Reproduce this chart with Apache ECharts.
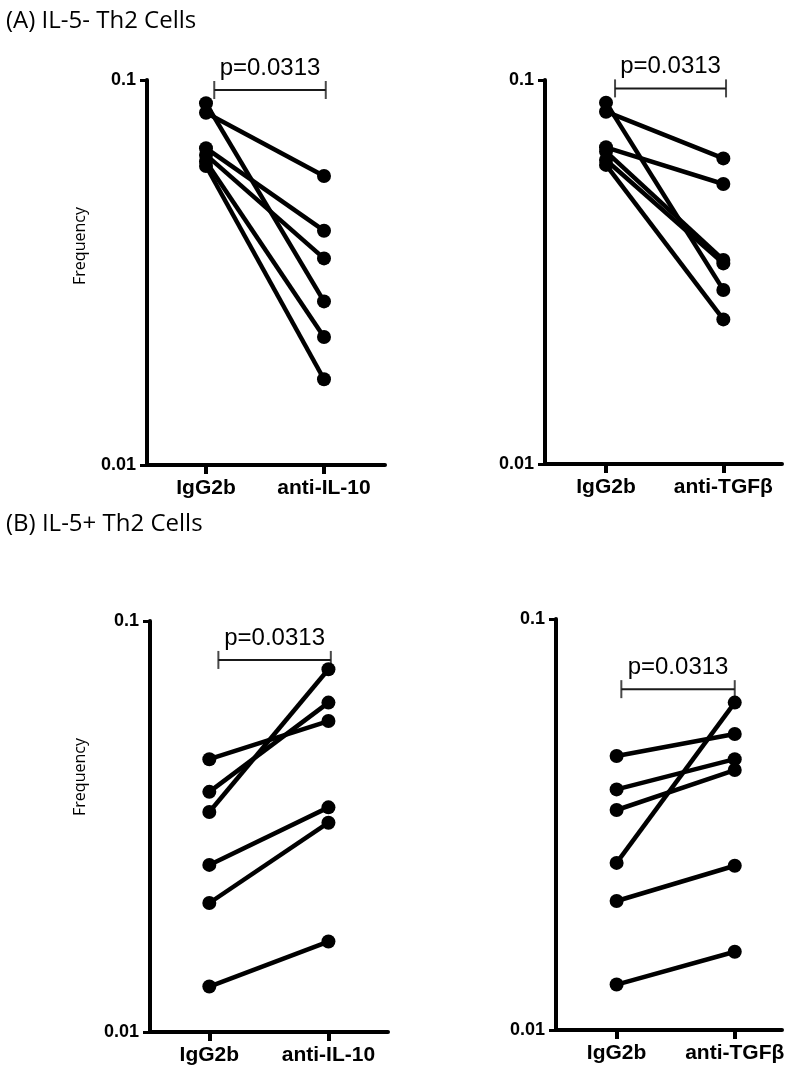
<!DOCTYPE html>
<html>
<head>
<meta charset="utf-8">
<style>
  html, body { margin: 0; padding: 0; background: #fff; }
  #chart { width: 800px; height: 1077px; }
</style>
<script src="https://cdn.jsdelivr.net/npm/echarts@6/dist/echarts.min.js"></script>
</head>
<body>
<div id="chart"></div>
<script>
// ---------- data ----------
const panelTitles = ['(A) IL-5- Th2 Cells', '(B) IL-5+ Th2 Cells'];
const yAxisTitle = 'Frequency';
const yTickLabels = ['0.01', '0.1'];
const pLabel = 'p=0.0313';

const catsIL10 = ['IgG2b', 'anti-IL-10'];
const catsTGF = ['IgG2b', 'anti-TGF\u03b2'];

// (A) IL-5- Th2 cells, anti-IL-10
const a1Before = [0.0870, 0.0822, 0.0665, 0.0639, 0.0614, 0.0598];
const a1After  = [0.0266, 0.0563, 0.0406, 0.0344, 0.0215, 0.0167];
// (A) IL-5- Th2 cells, anti-TGFb
const a2Before = [0.0873, 0.0827, 0.0668, 0.0651, 0.0619, 0.0601];
const a2After  = [0.0284, 0.0625, 0.0536, 0.0340, 0.0333, 0.0238];
// (B) IL-5+ Th2 cells, anti-IL-10
const b1Before = [0.0461, 0.0384, 0.0343, 0.0255, 0.0206, 0.0129];
const b1After  = [0.0571, 0.0633, 0.0763, 0.0352, 0.0323, 0.0166];
// (B) IL-5+ Th2 cells, anti-TGFb
const b2Before = [0.0464, 0.0385, 0.0343, 0.0255, 0.0206, 0.0129];
const b2After  = [0.0525, 0.0456, 0.0429, 0.0626, 0.0251, 0.0155];

// significance bracket: level (y value) and x ends (category positions)
const bracketLevel = [0.0942, 0.0951, 0.0804, 0.0675];
const bracketLeft  = [1.07, 1.077, 1.076, 1.04];
const bracketRight = [2.015, 2.023, 2.02, 2.0];

// ---------- layout ----------
const panels = [
  { before: a1Before, after: a1After, cats: catsIL10, grid: { left: 147, top: 80, width: 238, height: 385 }, xMin: 0.5, xMax: 2.517 },
  { before: a2Before, after: a2After, cats: catsTGF,  grid: { left: 545, top: 80, width: 237, height: 384 }, xMin: 0.48, xMax: 2.5 },
  { before: b1Before, after: b1After, cats: catsIL10, grid: { left: 150, top: 621, width: 238, height: 411 }, xMin: 0.502, xMax: 2.5 },
  { before: b2Before, after: b2After, cats: catsTGF,  grid: { left: 556, top: 619, width: 226, height: 411 }, xMin: 0.487, xMax: 2.4 }
];

const grids = [], xAxes = [], yAxes = [], series = [];
const bold = '"Liberation Sans", Arial, sans-serif';

panels.forEach((p, i) => {
  grids.push(Object.assign({ outerBoundsMode: 'none', containLabel: false }, p.grid));
  xAxes.push({
    type: 'value', gridIndex: i, min: p.xMin, max: p.xMax,
    splitLine: { show: false },
    axisLine: { show: true, onZero: false, lineStyle: { color: '#000', width: 4 } },
    axisTick: { show: true, length: 9, customValues: [1, 2], lineStyle: { color: '#000', width: 4 } },
    axisLabel: {
      customValues: [1, 2], margin: 13,
      formatter: v => p.cats[Math.round(v) - 1],
      color: '#000', fontFamily: bold, fontWeight: 'bold', fontSize: 21
    }
  });
  yAxes.push({
    type: 'log', logBase: 10, gridIndex: i, min: 0.01, max: 0.1,
    splitLine: { show: false }, minorTick: { show: false },
    axisLine: { show: true, onZero: false, lineStyle: { color: '#000', width: 4 } },
    axisTick: { show: true, length: 7, lineStyle: { color: '#000', width: 3 } },
    axisLabel: {
      margin: 11,
      formatter: v => yTickLabels[Math.round(Math.log10(v)) + 2],
      color: '#000', fontFamily: bold, fontWeight: 'bold', fontSize: 18
    }
  });
  p.before.forEach((b, j) => {
    series.push({
      type: 'line', xAxisIndex: i, yAxisIndex: i,
      data: [[1, b], [2, p.after[j]]],
      symbol: 'circle', symbolSize: 14, showSymbol: true,
      lineStyle: { color: '#000', width: 4.5 },
      itemStyle: { color: '#000' },
      emphasis: { disabled: true }, silent: true, animation: false, z: 3
    });
  });
  const lv = bracketLevel[i], l = bracketLeft[i], r = bracketRight[i];
  series.push({
    type: 'line', xAxisIndex: i, yAxisIndex: i,
    data: [[l, lv], [r, lv]], symbol: 'none',
    lineStyle: { color: '#1a1a1a', width: 2 }, silent: true, animation: false, z: 2
  });
  series.push({
    type: 'scatter', xAxisIndex: i, yAxisIndex: i,
    data: [[l, lv], [r, lv]], symbol: 'rect', symbolSize: [2, 18],
    itemStyle: { color: '#1a1a1a' }, silent: true, animation: false, z: 2
  });
  series.push({
    type: 'scatter', xAxisIndex: i, yAxisIndex: i,
    data: [[(l + r) / 2, lv]], symbolSize: 0,
    label: {
      show: true, position: 'top', distance: 10, formatter: pLabel,
      color: '#000', opacity: 1, fontFamily: '"Liberation Sans", Arial, sans-serif', fontSize: 24
    },
    silent: true, animation: false
  });
});

const lightFont = '"Open Sans", "Noto Sans", sans-serif';
const option = {
  backgroundColor: '#fff',
  animation: false,
  title: [
    { text: panelTitles[0], left: 1, top: 4, textStyle: { color: '#000', fontFamily: lightFont, fontWeight: 'normal', fontSize: 24 } },
    { text: panelTitles[1], left: 1, top: 507, textStyle: { color: '#000', fontFamily: lightFont, fontWeight: 'normal', fontSize: 24 } }
  ],
  graphic: [
    { type: 'text', x: 80, y: 246, rotation: Math.PI / 2, style: { text: yAxisTitle, fill: '#000', font: '16px "Open Sans", sans-serif', align: 'center', verticalAlign: 'middle' } },
    { type: 'text', x: 80, y: 777, rotation: Math.PI / 2, style: { text: yAxisTitle, fill: '#000', font: '16px "Open Sans", sans-serif', align: 'center', verticalAlign: 'middle' } }
  ],
  grid: grids, xAxis: xAxes, yAxis: yAxes, series: series
};

const chart = echarts.init(document.getElementById('chart'), null, { renderer: 'canvas' });
chart.setOption(option);
</script>
</body>
</html>
